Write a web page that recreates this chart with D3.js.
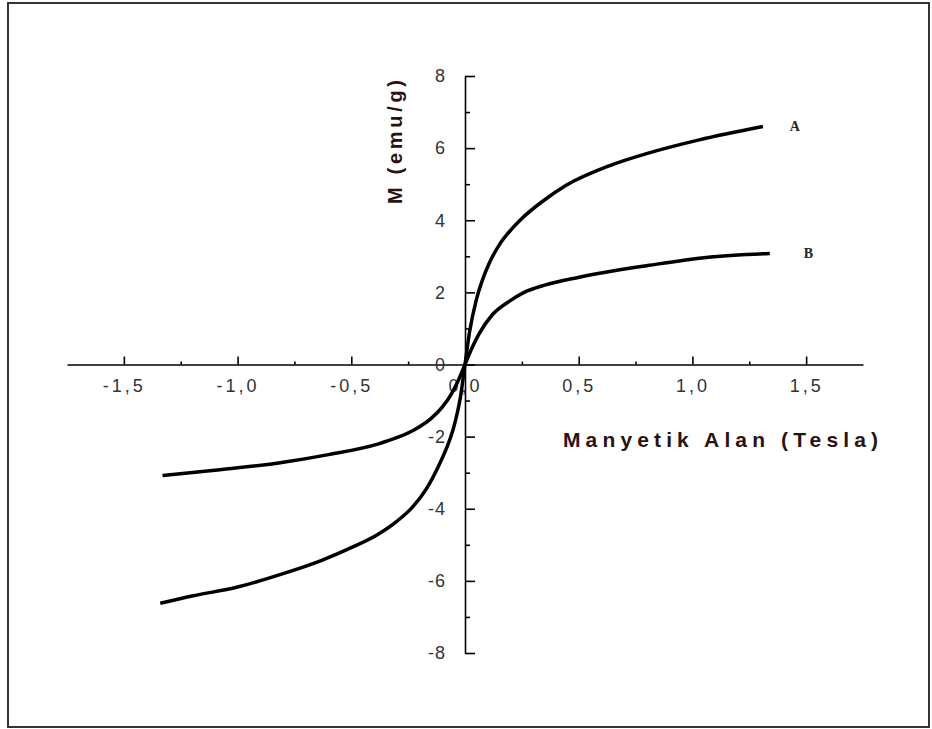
<!DOCTYPE html>
<html>
<head>
<meta charset="utf-8">
<script src="https://cdn.jsdelivr.net/npm/d3@7"></script>
<style>
  body { margin: 0; background: #fff; }
  svg { display: block; }
</style>
</head>
<body>
<div id="chart"></div>
<script>
// Magnetisation curves (field in Tesla, M in emu/g)
const fieldA = [-1.34, -1.2, -1.0, -0.8, -0.63, -0.5, -0.38, -0.3, -0.23, -0.17, -0.115, -0.08, -0.05, -0.02, 0, 0.02, 0.05, 0.08, 0.106, 0.15, 0.2, 0.25, 0.34, 0.445, 0.634, 0.81, 1.03, 1.31];
const magA   = [-6.62, -6.42, -6.17, -5.8, -5.43, -5.08, -4.7, -4.35, -3.95, -3.45, -2.8, -2.3, -1.75, -0.9, 0, 0.9, 1.8, 2.4, 2.8, 3.31, 3.72, 4.05, 4.52, 4.97, 5.51, 5.87, 6.23, 6.6];
const fieldB = [-1.33, -1.1, -0.82, -0.6, -0.38, -0.3, -0.22, -0.15, -0.1, -0.06, -0.03, 0, 0.03, 0.06, 0.12, 0.194, 0.26, 0.35, 0.502, 0.81, 1.06, 1.34];
const magB   = [-3.08, -2.93, -2.73, -2.5, -2.2, -2.03, -1.8, -1.5, -1.18, -0.82, -0.45, 0, 0.45, 0.83, 1.38, 1.75, 2.0, 2.2, 2.42, 2.75, 2.97, 3.08];
const xTicks = [-1.5, -1.0, -0.5, 0, 0.5, 1.0, 1.5];
const xMinor = [-1.25, -0.75, -0.25, 0.25, 0.75, 1.25];
const yTicks = [-8, -6, -4, -2, 0, 2, 4, 6, 8];
const yMinor = [-7, -5, -3, -1, 1, 3, 5, 7];
const seriesNames = ["A", "B"];

const width = 932, height = 729;
const svg = d3.select("#chart").append("svg")
  .attr("width", width).attr("height", height);

// outer frame
svg.append("rect")
  .attr("x", 8).attr("y", 3).attr("width", 921).attr("height", 724)
  .attr("fill", "none").attr("stroke", "#333").attr("stroke-width", 2);

const x = d3.scaleLinear().domain([-1.75, 1.75]).range([67, 863]);
const y = d3.scaleLinear().domain([-8, 8]).range([653, 76]);

// comma decimals and a plain hyphen for the minus sign
const fmtX = d => d3.format(".1f")(d).replace(".", ",").replace("\u2212", "-");
const fmtY = d => d3.format("d")(d).replace("\u2212", "-");

// x axis: ticks point up, labels below
const gx = svg.append("g").attr("transform", `translate(0,${y(0)})`)
  .call(d3.axisBottom(x).tickValues(xTicks).tickSizeInner(-8).tickSizeOuter(0)
    .tickPadding(15).tickFormat(fmtX));
svg.append("g").attr("transform", `translate(0,${y(0)})`)
  .call(d3.axisBottom(x).tickValues(xMinor).tickSizeInner(-3).tickSizeOuter(0)
    .tickFormat(""))
  .select(".domain").remove();

// y axis: ticks point right, labels left
const gy = svg.append("g").attr("transform", `translate(${x(0)},0)`)
  .call(d3.axisLeft(y).tickValues(yTicks).tickSizeInner(-10).tickSizeOuter(0)
    .tickPadding(19).tickFormat(fmtY));
svg.append("g").attr("transform", `translate(${x(0)},0)`)
  .call(d3.axisLeft(y).tickValues(yMinor).tickSizeInner(-5).tickSizeOuter(0)
    .tickFormat(""))
  .select(".domain").remove();

svg.selectAll(".domain, .tick line").attr("stroke", "#000").attr("stroke-width", 1.6);
[gx, gy].forEach(g => g.selectAll("text")
  .style("font-family", "Arial, 'Liberation Sans', sans-serif")
  .style("font-size", "18px")
  .style("letter-spacing", "3px")
  .attr("fill", "#333"));
gy.selectAll(".tick text").attr("dy", "0.32em").style("letter-spacing", "1px");

// curves
const line = d3.line().x(d => x(d[0])).y(d => y(d[1])).curve(d3.curveMonotoneX);
const curves = [d3.zip(fieldA, magA), d3.zip(fieldB, magB)];
svg.selectAll(".curve").data(curves).enter().append("path")
  .attr("class", "curve")
  .attr("d", line)
  .attr("fill", "none")
  .attr("stroke", "#000")
  .attr("stroke-width", 3.5)
  .attr("stroke-linejoin", "round");

// series labels next to line ends
const labelPos = [[1.45, 6.6], [1.51, 3.1]];
svg.selectAll(".lbl").data(seriesNames).enter().append("text")
  .attr("x", (d, i) => x(labelPos[i][0]))
  .attr("y", (d, i) => y(labelPos[i][1]))
  .attr("dy", "0.35em")
  .attr("text-anchor", "middle")
  .style("font-family", "'Liberation Serif', 'Times New Roman', serif")
  .style("font-weight", "bold")
  .style("font-size", "14px")
  .attr("fill", "#222")
  .text(d => d);

// axis titles
svg.append("text")
  .attr("transform", "translate(395,142) rotate(-90)")
  .attr("text-anchor", "middle")
  .attr("dy", "0.35em")
  .attr("textLength", 124)
  .attr("lengthAdjust", "spacing")
  .style("font-family", "Arial, 'Liberation Sans', sans-serif")
  .style("font-weight", "bold")
  .style("font-size", "20px")
  .attr("fill", "#2a1212")
  .text("M (emu/g)");

svg.append("text")
  .attr("x", 563).attr("y", 440)
  .attr("dy", "0.35em")
  .attr("textLength", 315)
  .attr("lengthAdjust", "spacing")
  .style("font-family", "Arial, 'Liberation Sans', sans-serif")
  .style("font-weight", "bold")
  .style("font-size", "21px")
  .attr("fill", "#2a1212")
  .text("Manyetik Alan (Tesla)");
</script>
</body>
</html>
